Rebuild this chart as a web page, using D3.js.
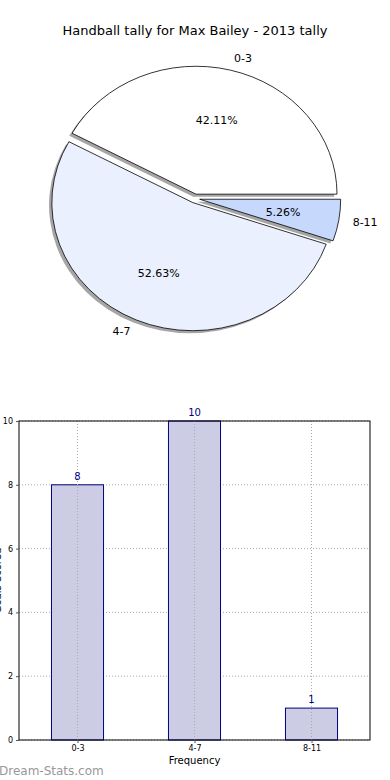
<!DOCTYPE html>
<html><head><meta charset="utf-8">
<script src="https://cdn.jsdelivr.net/npm/d3@7"></script>
<style>body{margin:0;background:#fff}svg{display:block}text{font-family:"DejaVu Sans",sans-serif}</style>
</head><body>
<svg id="c" width="390" height="780"></svg>
<script>
const title = "Handball tally for Max Bailey - 2013 tally";
const categories = ["0-3", "4-7", "8-11"];
const values = [8, 10, 1];
const sliceColors = ["#ffffff", "#eaf0fd", "#c6d9fd"];
const yTicks = [0, 2, 4, 6, 8, 10];
const xLabel = "Frequency";
const yLabel = "Goals Scored";
const watermark = "Dream-Stats.com";

const svg = d3.select("#c");

// ---------- Pie ----------
svg.append("text").attr("x", 195).attr("y", 35).attr("text-anchor", "middle")
  .attr("font-size", 13).text(title);

const cx = 194.8, cy = 198.5, rx = 141, ry = 128, explode = 0.035;
const pie = d3.pie().sort(null).startAngle(Math.PI / 2).endAngle(Math.PI / 2 - 2 * Math.PI);
const arcs = pie(values);
const arc = d3.arc().innerRadius(0).outerRadius(1);
const total = d3.sum(values);

function centerOf(a) {
  const m = (a.startAngle + a.endAngle) / 2;
  return { m, x: cx + explode * rx * Math.sin(m), y: cy - explode * ry * Math.cos(m) };
}
// shadows
arcs.forEach((a) => {
  const c = centerOf(a);
  svg.append("path")
    .attr("transform", `translate(${c.x - 2.8},${c.y + 2.6}) scale(${rx},${ry})`)
    .attr("d", arc(a)).attr("fill", "#4d4d4d").attr("opacity", 0.5);
});
arcs.forEach((a, i) => {
  const c = centerOf(a);
  svg.append("path")
    .attr("transform", `translate(${c.x},${c.y}) scale(${rx},${ry})`)
    .attr("d", arc(a)).attr("fill", sliceColors[i]).attr("stroke", "#000")
    .attr("stroke-width", 0.8).attr("vector-effect", "non-scaling-stroke")
    .attr("stroke-linejoin", "miter");
});
arcs.forEach((a, i) => {
  const c = centerOf(a);
  const sx = Math.sin(c.m), sy = -Math.cos(c.m);
  svg.append("text")
    .attr("x", c.x + 1.1 * rx * sx).attr("y", c.y + 1.1 * ry * sy)
    .attr("dy", "0.35em").attr("font-size", 11)
    .attr("text-anchor", sx >= 0 ? "start" : "end").text(categories[i]);
  svg.append("text")
    .attr("x", c.x + 0.6 * rx * sx).attr("y", c.y + 0.6 * ry * sy)
    .attr("dy", "0.35em").attr("font-size", 11).attr("text-anchor", "middle")
    .text((values[i] / total * 100).toFixed(2) + "%");
});

// ---------- Bar chart ----------
const L = 19, R = 370, T = 421, B = 740;
const x = d3.scaleLinear().domain([-0.5, 2.5]).range([L, R]);
const y = d3.scaleLinear().domain([0, 10]).range([B, T]);
const bw = 0.445;
const g = svg.append("g");

// grid
g.selectAll(".gy").data(yTicks).join("line")
  .attr("x1", L).attr("x2", R).attr("y1", d => y(d)).attr("y2", d => y(d))
  .attr("stroke", "#aaa").attr("stroke-width", 1).attr("stroke-dasharray", "1,2");

// bars
g.selectAll(".bar").data(values).join("rect")
  .attr("x", (d, i) => x(i - bw / 2)).attr("width", x(bw) - x(0))
  .attr("y", d => y(d)).attr("height", d => B - y(d))
  .attr("fill", "#ccccE5").attr("stroke", "#000080").attr("stroke-width", 1);

// vertical grid (over bars like matplotlib)
g.selectAll(".gx").data(categories).join("line")
  .attr("x1", (d, i) => x(i)).attr("x2", (d, i) => x(i)).attr("y1", T).attr("y2", B)
  .attr("stroke", "#aaa").attr("stroke-width", 1).attr("stroke-dasharray", "1,2");

// value labels
g.selectAll(".vl").data(values).join("text")
  .attr("x", (d, i) => x(i)).attr("y", d => y(d) - 5)
  .attr("text-anchor", "middle").attr("font-size", 10).attr("fill", "#000080").text(d => d);

// axes frame
g.append("rect").attr("x", L).attr("y", T).attr("width", R - L).attr("height", B - T)
  .attr("fill", "none").attr("stroke", "#000").attr("stroke-width", 1);

const yAxis = d3.axisLeft(y).tickValues(yTicks).tickSize(3).tickPadding(3);
const ya = svg.append("g").attr("transform", `translate(${L},0)`).call(yAxis);
ya.select(".domain").remove();
ya.selectAll("text").attr("font-size", 8).attr("font-family", "DejaVu Sans");
ya.selectAll("line").attr("stroke", "#555");

const xAxis = d3.axisBottom(x).tickValues([0, 1, 2]).tickFormat(i => categories[i]).tickSize(3).tickPadding(2);
const xa = svg.append("g").attr("transform", `translate(0,${B})`).call(xAxis);
xa.select(".domain").remove();
xa.selectAll("text").attr("font-size", 8).attr("font-family", "DejaVu Sans");
xa.selectAll("line").attr("stroke", "#555");

svg.append("text").attr("x", x(1)).attr("y", 764).attr("text-anchor", "middle")
  .attr("font-size", 10).text(xLabel);
svg.append("text").attr("transform", `translate(1,${(T + B) / 2}) rotate(-90)`)
  .attr("text-anchor", "middle").attr("font-size", 10).text(yLabel);

svg.append("text").attr("x", -1).attr("y", 775).attr("font-size", 12)
  .attr("fill", "#999").text(watermark);
</script>
</body></html>
